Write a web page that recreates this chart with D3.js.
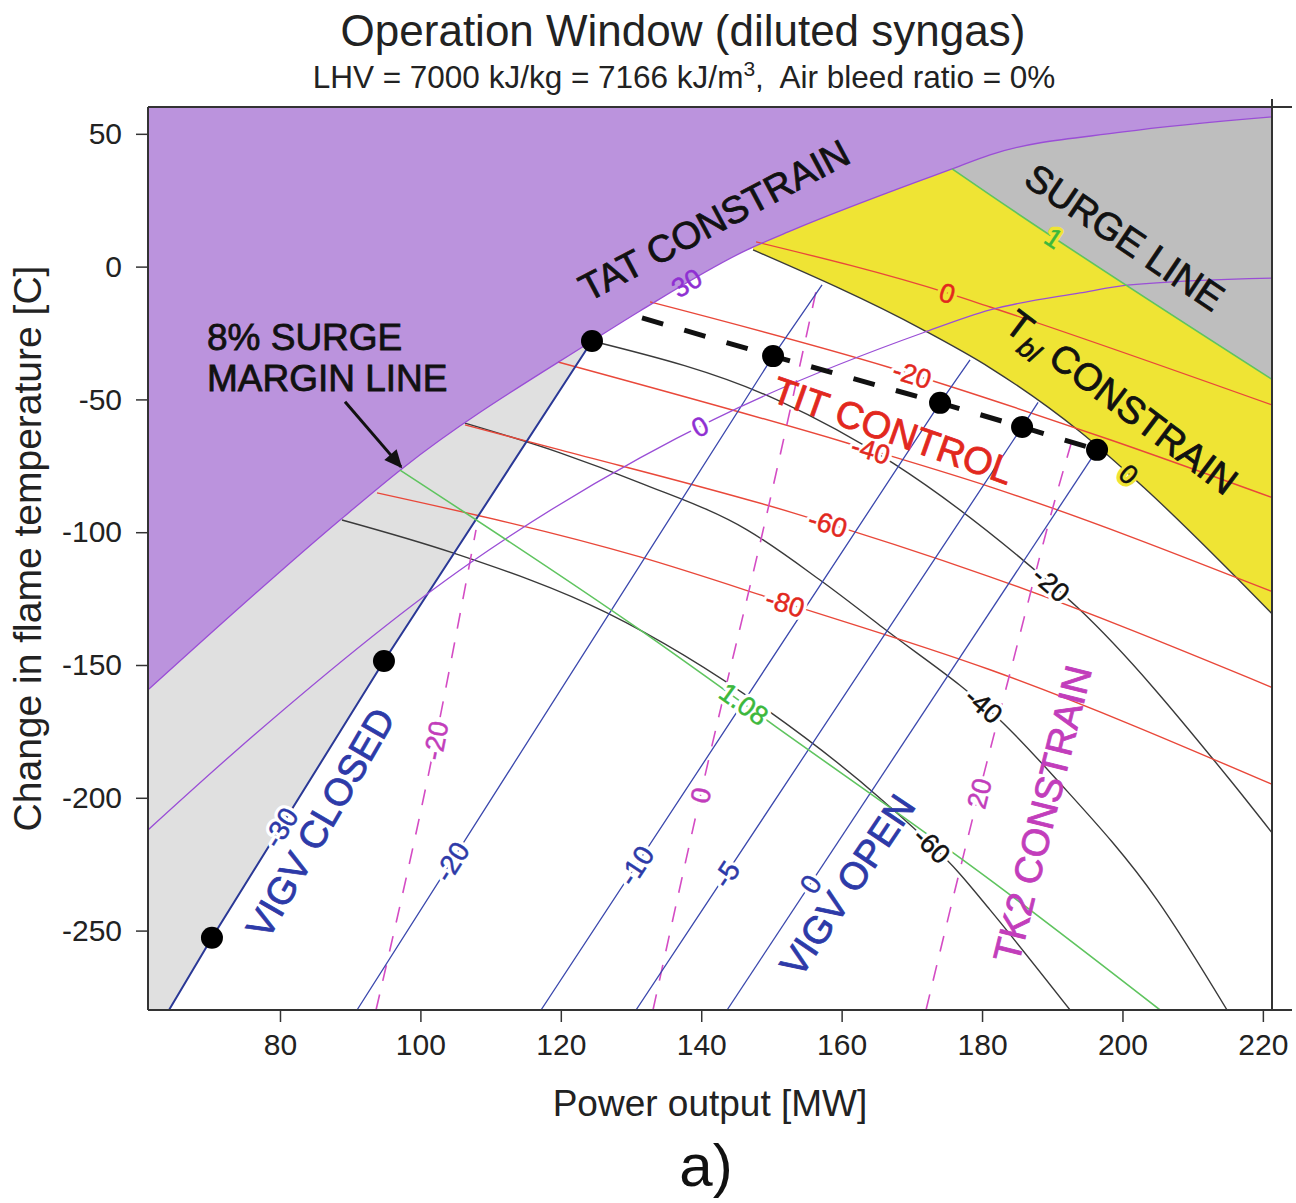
<!DOCTYPE html>
<html>
<head>
<meta charset="utf-8">
<script src="https://cdn.jsdelivr.net/npm/d3@7"></script>
<style>
  body { margin: 0; background: #fff; }
  svg text { font-family: "Liberation Sans", Arial, sans-serif; }
</style>
</head>
<body>
<div id="chart"></div>
<script>
// operation window, diluted syngas - power output [MW] vs change in flame temperature [C]

const xTicks = [80, 100, 120, 140, 160, 180, 200, 220];
const yTicks = [50, 0, -50, -100, -150, -200, -250];

// TAT constraint (TAT +30 line), upper edge of the window
const tatLine = [[61.2,-159.4],[88.55,-95.4],[97.52,-75.8],[124.44,-28.0],[131.28,-16.7],[146.52,6.3],[153.08,13.8],[175.73,36.8],[181.14,42.1],[200.09,50.7],[221.31,56.4]];
// TAT 0 line
const tatZero = [[61.2,-212.1],[73.87,-182.0],[107.07,-111.6],[131.28,-72.0],[141.68,-57.7],[171.6,-24.9],[181.14,-16.3],[193.96,-9.9],[201.08,-6.9],[221.45,-4.3]];

// VIGV position lines (deg)
const vigvLines = [
  { v: -30, pts: [[64.19,-279.9],[70.31,-252.7],[94.81,-148.5],[124.44,-28.0]] },
  { v: -20, pts: [[90.97,-279.9],[150.23,-33.7],[157.21,-6.9]] },
  { v: -10, pts: [[117.18,-279.9],[174.02,-51.3],[178.29,-35.1]] },
  { v: -5,  pts: [[130.71,-279.9],[185.70,-60.4],[187.98,-51.1]] },
  { v: 0,   pts: [[143.68,-279.9],[196.38,-69.0]] }
];

// blade temperature (Tbl) lines; 0 is the Tbl constraint
const tblLines = [
  { v: 0,   pts: [[147.38,6.3],[171.6,-23.8],[181.14,-38.1],[193.96,-62.2],[202.93,-82.9],[221.45,-131.1]] },
  { v: -20, pts: [[124.44,-28.0],[150.8,-50.2],[167.32,-74.0],[185.84,-110.5],[193.53,-128.2],[215.33,-193.3],[221.31,-213.2]] },
  { v: -40, pts: [[106.35,-58.9],[119.89,-70.1],[131.28,-81.4],[146.52,-99.1],[156.92,-118.0],[165.75,-135.7],[182.99,-171.8],[190.68,-193.3],[204.93,-238.4],[214.9,-279.9]] },
  { v: -60, pts: [[88.83,-95.4],[104.64,-107.8],[126.58,-130.4],[149.37,-166.9],[165.75,-200.8],[176.72,-228.3],[181.14,-242.2],[192.54,-279.9]] }
];

// TIT lines
const titLines = [
  { v: 0,   pts: [[147.81,9.3],[175.01,-9.9],[181.14,-15.2],[221.31,-52.1]] },
  { v: -20, pts: [[132.71,-13.3],[166.47,-37.7],[198.23,-65.2],[221.45,-87.1]] },
  { v: -40, pts: [[119.6,-35.9],[160.77,-66.4],[181.14,-82.9],[221.45,-122.5]] },
  { v: -60, pts: [[106.35,-59.6],[119.89,-69.0],[153.08,-92.7],[181.14,-116.8],[221.45,-158.6]] },
  { v: -80, pts: [[93.82,-85.2],[131.28,-109.3],[151.94,-126.6],[181.14,-151.8],[221.45,-195.1]] }
];

// TK2 lines (dashed)
const tk2Lines = [
  { v: -20, pts: [[93.68,-279.9],[101.37,-188.4],[107.92,-99.1]] },
  { v: 0,   pts: [[133.13,-279.9],[139.97,-198.2],[149.8,-87.9],[156.64,-5.8]] },
  { v: 20,  pts: [[172.02,-279.9],[179.57,-198.2],[183.99,-153.0],[190.11,-90.5],[193.25,-61.5]] }
];

// surge lines (pressure ratio relative to surge)
const surgeLines = [
  { v: '1',    pts: [[175.73,36.8],[181.14,27.0],[221.45,-42.7]] },
  { v: '1.08', pts: [[97.09,-76.6],[131.28,-136.8],[150.66,-173.3],[181.14,-230.9],[205.36,-279.9]] }
];

// operating points and TIT control line
const opPoints = [[70.31,-252.7],[94.81,-148.5],[124.44,-28.0],[150.23,-33.7],[174.02,-51.3],[185.70,-60.4],[196.38,-69.0]];
const titControl = [[131.57,-19.3],[150.23,-33.7],[174.02,-51.3],[185.70,-60.4],[196.38,-69.0]];

// ---- layout ----
const W = 1296, H = 1203;
const x = d3.scaleLinear().domain([61.2, 221.3]).range([148, 1272]);
const y = d3.scaleLinear().domain([-279.9, 60.1]).range([1010, 107]);
const [x0, x1] = x.range();
const [y0, y1] = y.range();

const col = {
  purpleFill: '#bb93dd', lightGray: '#e0e0e0', darkGray: '#bebebe', yellow: '#efe434',
  blue: '#3b48ad', blueText: '#2d3aa8', magenta: '#d44cc4', magentaText: '#c23dbb',
  black: '#3a3a3a', red: '#e9483a', redText: '#e2281e', purple: '#9a4ed6', purpleText: '#8f2fd2',
  green: '#5fc45f', greenText: '#3cb83c'
};

const svg = d3.select('#chart').append('svg')
  .attr('width', W)
  .attr('height', H)
  .style('background', '#fff');

const defs = svg.append('defs');
defs.append('clipPath').attr('id', 'plot')
  .append('rect').attr('x', x0).attr('y', y1).attr('width', x1 - x0).attr('height', y0 - y1);
defs.append('marker')
  .attr('id', 'arrow')
  .attr('viewBox', '0 -5 10 10')
  .attr('refX', 9).attr('refY', 0)
  .attr('markerWidth', 7).attr('markerHeight', 6)
  .attr('markerUnits', 'strokeWidth')
  .attr('orient', 'auto')
  .append('path').attr('d', 'M0,-4.5L10,0L0,4.5Z').attr('fill', '#111');

const plot = svg.append('g').attr('clip-path', 'url(#plot)');

const curved = d3.line().x(d => x(d[0])).y(d => y(d[1])).curve(d3.curveMonotoneX);
const straight = d3.line().x(d => x(d[0])).y(d => y(d[1]));
const aboveArea = d3.area().x(d => x(d[0])).y0(d => y(d[1])).y1(y1 - 5).curve(d3.curveMonotoneX);

// ---- regions ----
plot.append('path').datum(tblLines[0].pts).attr('d', aboveArea).attr('fill', col.yellow);
plot.append('path').datum(surgeLines[0].pts).attr('d', aboveArea).attr('fill', col.darkGray);
const grayPoly = [[61.2, -279.9]].concat(vigvLines[0].pts, [[124.44, 60.1], [61.2, 60.1]]);
plot.append('path').datum(grayPoly).attr('d', d => straight(d) + 'Z').attr('fill', col.lightGray);
plot.append('path').datum(tatLine).attr('d', aboveArea).attr('fill', col.purpleFill);

// ---- lines ----
function drawFamily(data, gen, color, width, dash) {
  return plot.append('g').selectAll('path').data(data).enter().append('path')
    .attr('d', d => gen(d.pts))
    .attr('fill', 'none')
    .attr('stroke', color)
    .attr('stroke-width', width)
    .attr('stroke-dasharray', dash || null);
}

const tblPaths = drawFamily(tblLines, curved, col.black, 1.4);
const titPaths = drawFamily(titLines, curved, col.red, 1.4);
const tk2Paths = drawFamily(tk2Lines, curved, col.magenta, 1.6, '16,14');
const vigvPaths = drawFamily(vigvLines, straight, col.blue, 1.3);
vigvPaths.filter(d => d.v === -30).attr('stroke', '#2a3896').attr('stroke-width', 2);
const tatPaths = drawFamily([{ v: '30', pts: tatLine }, { v: '0', pts: tatZero }], curved, col.purple, 1.3);
const surgePaths = drawFamily(surgeLines, curved, col.green, 1.6);

plot.append('path').datum(titControl)
  .attr('d', straight)
  .attr('fill', 'none')
  .attr('stroke', '#111')
  .attr('stroke-width', 5)
  .attr('stroke-dasharray', '22,22');

plot.append('g').selectAll('circle').data(opPoints).enter().append('circle')
  .attr('cx', d => x(d[0]))
  .attr('cy', d => y(d[1]))
  .attr('r', 11)
  .attr('fill', '#000');

// ---- line labels, snapped onto their own line ----
function interp(pts, v) {
  for (let i = 1; i < pts.length; i++) {
    if (v <= pts[i][0]) {
      const [a, b] = [pts[i - 1], pts[i]];
      return a[1] + (b[1] - a[1]) * (v - a[0]) / (b[0] - a[0]);
    }
  }
  return pts[pts.length - 1][1];
}

function bgAt(mw, c) {
  if (c > interp(tatLine, mw) + 0.5) return null;
  if (mw < 64.19 || (mw < 124.44 && c > interp(vigvLines[0].pts, mw))) return col.lightGray;
  if (mw > 175.73 && c > interp(surgeLines[0].pts, mw)) return col.darkGray;
  if (mw > 147.38 && c > interp(tblLines[0].pts, mw)) return col.yellow;
  return '#fff';
}

function snap(node, px, py) {
  const L = node.getTotalLength();
  let best = 0, bestD = Infinity;
  for (let s = 0; s <= L; s += 1) {
    const p = node.getPointAtLength(s);
    const dd = (p.x - px) ** 2 + (p.y - py) ** 2;
    if (dd < bestD) { bestD = dd; best = s; }
  }
  const p = node.getPointAtLength(best);
  const a = node.getPointAtLength(Math.max(0, best - 5));
  const b = node.getPointAtLength(Math.min(L, best + 5));
  let ang = Math.atan2(b.y - a.y, b.x - a.x) * 180 / Math.PI;
  if (ang > 90) ang -= 180;
  if (ang < -90) ang += 180;
  return { x: p.x, y: p.y, ang };
}

const labelLayer = svg.append('g');

function labelFamily(paths, where, color, size) {
  paths.each(function (d) {
    const at = where[d.v];
    if (!at) return;
    const s = snap(this, x(at[0]), y(at[1]));
    const bg = bgAt(x.invert(s.x), y.invert(s.y));
    const g = labelLayer.append('g')
      .attr('transform', `translate(${s.x},${s.y}) rotate(${s.ang})`)
      .attr('text-anchor', 'middle')
      .attr('font-size', size);
    if (bg) {
      g.append('text')
        .attr('dy', '0.36em')
        .attr('fill', bg)
        .attr('stroke', bg)
        .attr('stroke-width', 7)
        .attr('stroke-linejoin', 'round')
        .text(d.v);
    }
    g.append('text')
      .attr('dy', '0.36em')
      .attr('fill', color)
      .attr('stroke', color)
      .attr('stroke-width', 0.5)
      .text(d.v);
  });
}

labelFamily(vigvPaths, { '-30': [80.0,-210.9], '-20': [103.5,-222.6], '-10': [130.0,-224.1], '-5': [142.54,-227.1], '0': [155.07,-231.6] }, col.blueText, 28);
labelFamily(tk2Paths, { '-20': [101.79,-178.2], '0': [139.97,-198.9], '20': [179.57,-198.2] }, col.magentaText, 27);
labelFamily(tblPaths, { '0': [201.08,-77.7], '-20': [189.69,-119.8], '-40': [180.14,-165.4], '-60': [172.45,-218.9] }, '#111', 27);
labelFamily(titPaths, { '0': [175.01,-9.9], '-20': [170.17,-40.0], '-40': [164.05,-69.8], '-60': [157.92,-97.2], '-80': [151.94,-127.0] }, col.redText, 27);
labelFamily(tatPaths, { '30': [137.98,-6.1], '0': [139.83,-60.7] }, col.purpleText, 27);
labelFamily(surgePaths, { '1': [190.4,11.2], '1.08': [145.81,-165.8] }, col.greenText, 27);

// ---- annotations ----
const notes = [
  { text: 'TAT CONSTRAIN', at: [141.82, 17.6], rot: -28, color: '#111' },
  { text: 'SURGE LINE', at: [200.37, 11.2], rot: 34, color: '#111' },
  { text: 'TIT CONTROL', at: [167.32, -61.5], rot: 19.5, color: col.redText },
  { text: 'VIGV CLOSED', at: [85.7, -209.4], rot: -60, color: col.blueText },
  { text: 'VIGV OPEN', at: [160.77, -232.8], rot: -56, color: col.blueText },
  { text: 'TK2 CONSTRAIN', at: [188.55, -206.0], rot: -76, color: col.magentaText }
];

svg.append('g').selectAll('text').data(notes).enter().append('text')
  .attr('transform', d => `translate(${x(d.at[0])},${y(d.at[1])}) rotate(${d.rot})`)
  .attr('text-anchor', 'middle')
  .attr('dy', '0.36em')
  .attr('font-size', 38)
  .attr('fill', d => d.color)
  .attr('stroke', d => d.color)
  .attr('stroke-width', 0.8)
  .text(d => d.text);

const tbl = svg.append('text')
  .attr('transform', `translate(${x(199.94)},${y(-50.9)}) rotate(37)`)
  .attr('text-anchor', 'middle')
  .attr('dy', '0.36em')
  .attr('font-size', 38)
  .attr('fill', '#111')
  .attr('stroke', '#111')
  .attr('stroke-width', 0.8);
tbl.append('tspan').text('T');
tbl.append('tspan').attr('font-size', 27).attr('font-style', 'italic').attr('dy', 10).text('bl');
tbl.append('tspan').attr('dy', -10).text(' CONSTRAIN');

const margin8 = svg.append('text')
  .attr('font-size', 37)
  .attr('fill', '#111')
  .attr('stroke', '#111')
  .attr('stroke-width', 0.8);
margin8.append('tspan').attr('x', x(69.6)).attr('y', y(-31.4)).text('8% SURGE');
margin8.append('tspan').attr('x', x(69.6)).attr('y', y(-46.8)).text('MARGIN LINE');

svg.append('line')
  .attr('x1', x(89.26)).attr('y1', y(-50.9))
  .attr('x2', x(97.24)).attr('y2', y(-75.4))
  .attr('stroke', '#111')
  .attr('stroke-width', 3)
  .attr('marker-end', 'url(#arrow)');

// ---- axes and frame ----
const gx = svg.append('g')
  .attr('transform', `translate(0,${y0})`)
  .call(d3.axisBottom(x).tickValues(xTicks).tickFormat(d => String(d)).tickSize(12).tickPadding(12));
const gy = svg.append('g')
  .attr('transform', `translate(${x0},0)`)
  .call(d3.axisLeft(y).tickValues(yTicks).tickFormat(d => String(d)).tickSize(12).tickPadding(14));

[gx, gy].forEach(g => {
  g.select('.domain').remove();
  g.selectAll('line').attr('stroke', '#333').attr('stroke-width', 1.5);
  g.selectAll('text')
    .attr('font-family', '"Liberation Sans", Arial, sans-serif')
    .attr('font-size', 30)
    .attr('fill', '#222');
});

const frame = svg.append('g').attr('stroke', '#333').attr('stroke-width', 2);
frame.append('line').attr('x1', x0).attr('x2', x0).attr('y1', y1).attr('y2', y0);
frame.append('line').attr('x1', x0).attr('x2', 1292).attr('y1', y0).attr('y2', y0);
frame.append('line').attr('x1', x0).attr('x2', 1292).attr('y1', y1).attr('y2', y1);
frame.append('line').attr('x1', x1).attr('x2', x1).attr('y1', y1 - 8).attr('y2', y0);

// ---- titles ----
svg.append('text')
  .attr('x', 683).attr('y', 46)
  .attr('text-anchor', 'middle')
  .attr('font-size', 44)
  .attr('fill', '#222')
  .text('Operation Window (diluted syngas)');

const sub = svg.append('text')
  .attr('x', 684).attr('y', 88)
  .attr('text-anchor', 'middle')
  .attr('font-size', 31.5)
  .attr('fill', '#222');
sub.append('tspan').text('LHV = 7000 kJ/kg = 7166 kJ/m');
sub.append('tspan').attr('font-size', 21).attr('dy', -12).text('3');
sub.append('tspan').attr('dy', 12).text(',\u00a0 Air bleed ratio = 0%');

svg.append('text')
  .attr('x', (x0 + x1) / 2).attr('y', 1116)
  .attr('text-anchor', 'middle')
  .attr('font-size', 37)
  .attr('fill', '#222')
  .text('Power output [MW]');

svg.append('text')
  .attr('transform', `translate(41,${(y0 + y1) / 2 - 10}) rotate(-90)`)
  .attr('text-anchor', 'middle')
  .attr('font-size', 39)
  .attr('fill', '#222')
  .text('Change in flame temperature [C]');

svg.append('text')
  .attr('x', 706).attr('y', 1186)
  .attr('text-anchor', 'middle')
  .attr('font-size', 60)
  .attr('fill', '#111')
  .text('a)');
</script>
</body>
</html>
